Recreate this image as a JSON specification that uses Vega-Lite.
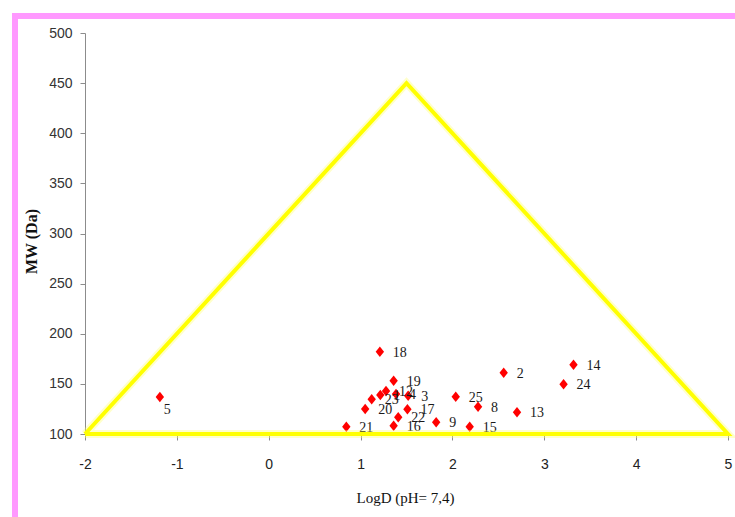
{
  "$schema": "https://vega.github.io/schema/vega-lite/v6.json",
  "width": 720,
  "height": 501,
  "padding": {"left": 15, "top": 16, "right": 0, "bottom": 0},
  "autosize": {"type": "none"},
  "background": "white",
  "config": {
    "view": {"stroke": "#ff99ff", "strokeWidth": 6, "strokeDash": [720, 1221, 501], "strokeCap": "square", "fill": "white"}
  },
  "datasets": {
    "tri": [
      {"x": -2, "y": 100, "o": 1},
      {"x": 1.5, "y": 450, "o": 2},
      {"x": 5, "y": 100, "o": 3},
      {"x": -2, "y": 100, "o": 4}
    ],
    "pts": [
      {"id": "5", "x": -1.185, "y": 137},
      {"id": "18", "x": 1.21, "y": 182},
      {"id": "19", "x": 1.36, "y": 153},
      {"id": "20", "x": 1.05, "y": 125},
      {"id": "23", "x": 1.121, "y": 134.6},
      {"id": "1", "x": 1.215, "y": 138.9},
      {"id": "12", "x": 1.277, "y": 142.9},
      {"id": "4", "x": 1.386, "y": 139.9},
      {"id": "3", "x": 1.518, "y": 138.2},
      {"id": "17", "x": 1.51, "y": 124.6},
      {"id": "22", "x": 1.41, "y": 116.6},
      {"id": "16", "x": 1.36, "y": 108.3},
      {"id": "21", "x": 0.845, "y": 107.3},
      {"id": "9", "x": 1.823, "y": 111.7},
      {"id": "25", "x": 2.036, "y": 137.2},
      {"id": "15", "x": 2.188, "y": 107.3},
      {"id": "8", "x": 2.279, "y": 127.2},
      {"id": "2", "x": 2.558, "y": 161.1},
      {"id": "14", "x": 3.318, "y": 169.1},
      {"id": "24", "x": 3.21, "y": 149.6},
      {"id": "13", "x": 2.703, "y": 121.6}
    ]
  },
  "encoding": {
    "x": {
      "field": "x", "type": "quantitative",
      "scale": {"domain": [-2, 5], "range": [70, 713], "nice": false, "zero": false},
      "axis": {
        "title": "LogD (pH= 7,4)", "values": [-2, -1, 0, 1, 2, 3, 4, 5], "offset": -83,
        "labelExpr": "'' + datum.value",
        "grid": false, "domainColor": "#8c8c8c", "tickColor": "#8c8c8c", "tickSize": 6,
        "labelFont": "Liberation Sans Narrow, Liberation Sans", "labelFontSize": 14, "labelColor": "#222222", "labelPadding": 17, "labelFlush": false,
        "titleFont": "Liberation Serif", "titleFontSize": 15, "titleFontWeight": "normal", "titleColor": "#111111",
        "titleX": 390, "titleY": 63, "titleBaseline": "middle", "titleAlign": "center"
      }
    },
    "y": {
      "field": "y", "type": "quantitative",
      "scale": {"domain": [100, 500], "range": [418, 17], "nice": false, "zero": false},
      "axis": {
        "title": "MW (Da)", "values": [100, 150, 200, 250, 300, 350, 400, 450, 500], "offset": -70,
        "grid": false, "domainColor": "#8c8c8c", "tickColor": "#8c8c8c", "tickSize": 5,
        "labelFont": "Liberation Sans Narrow, Liberation Sans", "labelFontSize": 14, "labelColor": "#333333", "labelPadding": 8,
        "titleFont": "Liberation Serif", "titleFontSize": 16, "titleFontWeight": "bold", "titleColor": "#111111",
        "titleX": -54, "titleY": 225, "titleBaseline": "middle", "titleAlign": "center", "titleAngle": -90
      }
    }
  },
  "layer": [
    {
      "data": {"name": "pts"},
      "mark": {"type": "point", "shape": "M0,-1L0.8,0L0,1L-0.8,0Z", "filled": true, "color": "#ff0000", "opacity": 1, "size": 110, "strokeWidth": 0}
    },
    {
      "data": {"name": "pts"},
      "transform": [{"filter": "datum.id !== '5'"}],
      "mark": {"type": "text", "align": "left", "baseline": "middle", "dx": 13, "dy": 1, "font": "Liberation Serif", "fontSize": 14, "color": "#1a1a1a"},
      "encoding": {"text": {"field": "id"}}
    },
    {
      "data": {"name": "pts"},
      "transform": [{"filter": "datum.id === '5'"}],
      "mark": {"type": "text", "align": "left", "baseline": "middle", "dx": 4, "dy": 13, "font": "Liberation Serif", "fontSize": 14, "color": "#1a1a1a"},
      "encoding": {"text": {"field": "id"}}
    },
    {
      "data": {"name": "tri"},
      "mark": {"type": "line", "color": "#ffff66", "strokeWidth": 8, "opacity": 0.35, "strokeJoin": "miter"},
      "encoding": {"order": {"field": "o", "type": "quantitative"}}
    },
    {
      "data": {"name": "tri"},
      "mark": {"type": "line", "color": "#ffff00", "strokeWidth": 4, "strokeJoin": "miter"},
      "encoding": {"order": {"field": "o", "type": "quantitative"}}
    }
  ]
}
